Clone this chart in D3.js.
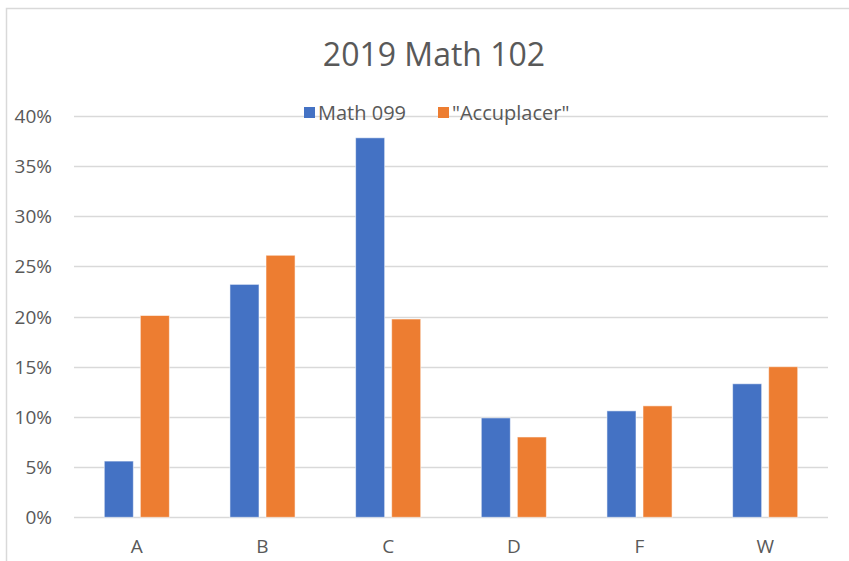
<!DOCTYPE html>
<html>
<head>
<meta charset="utf-8">
<script src="https://cdn.jsdelivr.net/npm/d3@7"></script>
<style>
  html, body { margin: 0; padding: 0; background: #fff; }
  svg { display: block; }
  text { font-family: "Open Sans", "Noto Sans", sans-serif; fill: #595959; }
</style>
</head>
<body>
<svg id="chart" width="849" height="561"></svg>
<script>
const categories = ["A", "B", "C", "D", "F", "W"];
const seriesNames = ["Math 099", "\"Accuplacer\""];
const math099 = [0.056, 0.232, 0.378, 0.099, 0.106, 0.133];
const accuplacer = [0.201, 0.261, 0.1975, 0.080, 0.111, 0.150];
const yTicks = [0, 0.05, 0.10, 0.15, 0.20, 0.25, 0.30, 0.35, 0.40];
const colors = ["#4472C4", "#ED7D31"];
const title = "2019 Math 102";

const svg = d3.select("#chart");
const W = 849, H = 561;
const plot = { left: 74, right: 828, top: 115.7, bottom: 517.3 };

svg.append("rect").attr("width", W).attr("height", H).attr("fill", "#fff");
// outer chart border
svg.append("path")
  .attr("d", `M6.5,${H} V8.5 H${W}`)
  .attr("fill", "none").attr("stroke", "#d9d9d9").attr("stroke-width", 1.5);

const x = d3.scaleBand().domain(categories).range([plot.left, plot.right]).padding(0);
const xs = d3.scaleBand().domain(seriesNames).range([0, x.bandwidth()])
  .paddingInner(0.194).paddingOuter(0.84);
const y = d3.scaleLinear().domain([0, 0.4]).range([plot.bottom, plot.top]);

// gridlines
svg.append("g").selectAll("line").data(yTicks).join("line")
  .attr("x1", plot.left).attr("x2", plot.right)
  .attr("y1", d => Math.round(y(d)) + 0.5).attr("y2", d => Math.round(y(d)) + 0.5)
  .attr("stroke", "#d9d9d9").attr("stroke-width", 1.3);

// y axis labels
const yAxis = d3.axisLeft(y).tickValues(yTicks).tickFormat(d3.format(".0%")).tickSize(0).tickPadding(0);
const gy = svg.append("g").attr("transform", "translate(52,0)").call(yAxis);
gy.select(".domain").remove();
gy.selectAll("text").style("font-size", "19px").attr("fill", "#595959")
  .style("font-family", "'Open Sans', sans-serif").attr("dy", "0.35em");

// x axis labels
const xAxis = d3.axisBottom(x).tickSize(0).tickPadding(0);
const gx = svg.append("g").attr("transform", `translate(0,${plot.bottom})`).call(xAxis);
gx.select(".domain").remove();
gx.selectAll("text").style("font-size", "19px").attr("fill", "#595959")
  .style("font-family", "'Open Sans', sans-serif").attr("y", 36).attr("dy", 0);

// bars
const rows = categories.map((c, i) => ({ cat: c, vals: [math099[i], accuplacer[i]] }));
const groups = svg.append("g").selectAll("g").data(rows).join("g")
  .attr("transform", d => `translate(${x(d.cat)},0)`);
groups.selectAll("rect").data(d => d.vals.map((v, j) => ({ v, s: seriesNames[j], j }))).join("rect")
  .attr("x", d => xs(d.s))
  .attr("width", xs.bandwidth())
  .attr("y", d => y(d.v))
  .attr("height", d => y(0) - y(d.v))
  .attr("fill", d => colors[d.j])
  .attr("stroke", "rgba(255,255,255,0.55)").attr("stroke-width", 1);

// title
svg.append("text").attr("x", 434).attr("y", 66).attr("text-anchor", "middle")
  .style("font-size", "32px").text(title);

// legend
const legendItems = [
  { name: "Math 099", color: colors[0], x: 304 },
  { name: "\"Accuplacer\"", color: colors[1], x: 438 }
];
const lg = svg.append("g").selectAll("g").data(legendItems).join("g")
  .attr("transform", d => `translate(${d.x},0)`);
lg.append("rect").attr("x", 0).attr("y", 107).attr("width", 11).attr("height", 11)
  .attr("fill", d => d.color);
lg.append("text").attr("x", 14).attr("y", 120).style("font-size", "20px").text(d => d.name);
</script>
</body>
</html>
